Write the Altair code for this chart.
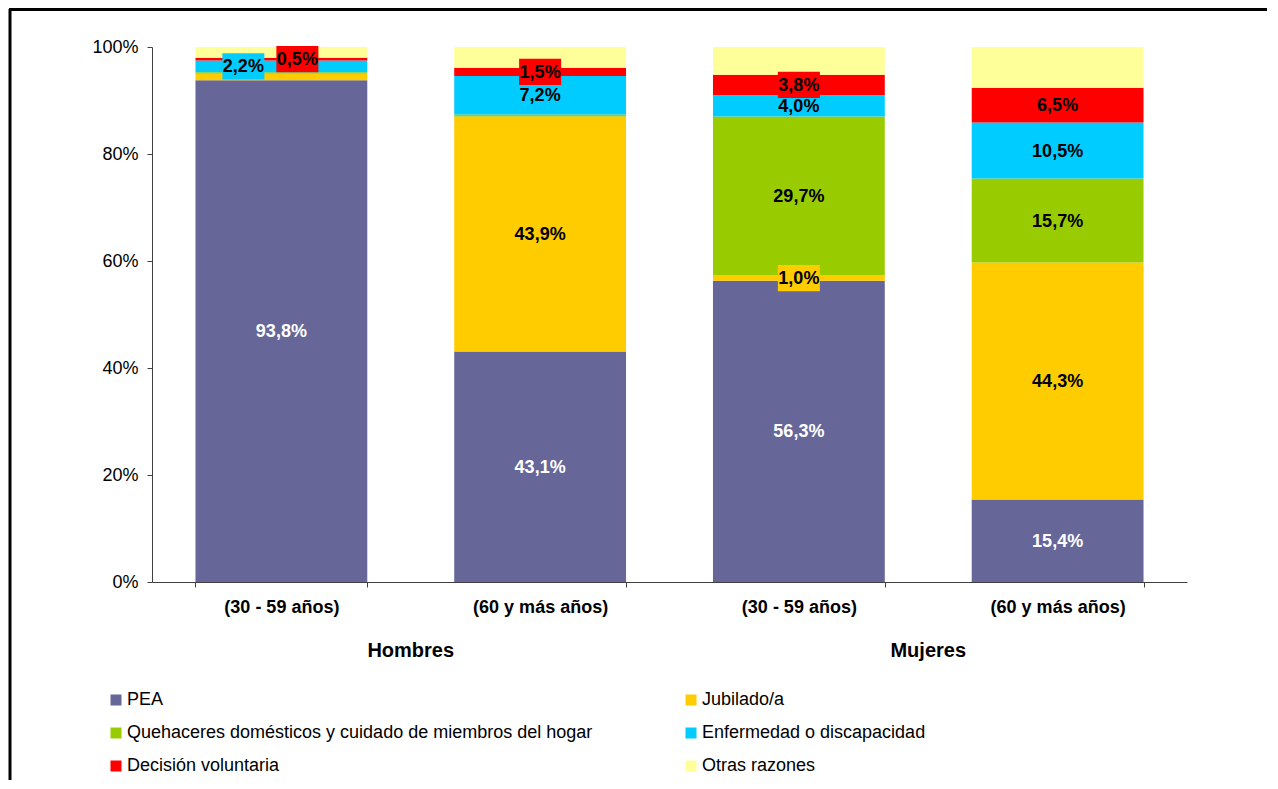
import altair as alt
import pandas as pd

# ---------------- data ----------------
groups = ["Hombres", "Hombres", "Mujeres", "Mujeres"]
ages = ["(30 - 59 años)", "(60 y más años)", "(30 - 59 años)", "(60 y más años)"]
group_names = ["Hombres", "Mujeres"]

series = [
    "PEA",
    "Jubilado/a",
    "Quehaceres domésticos y cuidado de miembros del hogar",
    "Enfermedad o discapacidad",
    "Decisión voluntaria",
    "Otras razones",
]
colors = ["#666699", "#FFCC00", "#99CC00", "#00CCFF", "#FF0000", "#FFFF99"]

pea = [93.8, 43.1, 56.3, 15.4]
jubilado = [1.2, 43.9, 1.0, 44.3]
quehaceres = [0.3, 0.4, 29.7, 15.7]
enfermedad = [2.2, 7.2, 4.0, 10.5]
decision = [0.5, 1.5, 3.8, 6.5]
otras = [2.0, 3.9, 5.2, 7.6]

pea_show = [True, True, True, True]
jubilado_show = [False, True, True, True]
quehaceres_show = [False, False, True, True]
enfermedad_show = [True, True, True, True]
decision_show = [True, True, True, True]
otras_show = [False, False, False, False]

y_ticks = [0, 20, 40, 60, 80, 100]

# ---------------- table ----------------
values = [pea, jubilado, quehaceres, enfermedad, decision, otras]
shows = [pea_show, jubilado_show, quehaceres_show, enfermedad_show, decision_show, otras_show]
cats = [f"{g} {a}" for g, a in zip(groups, ages)]

# legend is filled column by column: two columns of three
legend_order = [series[i] for i in (0, 2, 4, 1, 3, 5)]

# horizontal nudges of overlapping labels (style, in pixels)
label_dx = {(0, 3): -38, (0, 4): 16}

rows = []
for ci, cat in enumerate(cats):
    base = 0.0
    for si, s in enumerate(series):
        v = values[si][ci]
        rows.append({
            "cat": cat,
            "serie": s,
            "orden": si,
            "valor": v,
            "mid": base + v / 2.0,
            "etiqueta": f"{v:.1f}".replace(".", ",") + "%",
            "mostrar": shows[si][ci],
            "caja": bool(shows[si][ci] and v < 4),
            "hex": colors[si],
            "dx": label_dx.get((ci, si), 0),
        })
        base += v
df = pd.DataFrame(rows)
labels_df = df[df["mostrar"]]

FONT = "Liberation Sans"
xscale = alt.Scale(type="band", domain=cats, paddingInner=0.336, paddingOuter=0.168)
yscale = alt.Scale(domain=[0, 100], nice=False)

bars = alt.Chart(df).mark_bar().encode(
    x=alt.X("cat:N", scale=xscale, sort=cats, axis=alt.Axis(
        title=None, labelAngle=0, labelExpr="substring(datum.label, indexof(datum.label, '('))",
        labelFontSize=18, labelFontWeight="bold", labelColor="black", labelPadding=11,
        tickBand="extent", tickSize=5, tickColor="#404040", domainColor="#404040",
        labelFont=FONT,
    )),
    y=alt.Y("valor:Q", stack="zero", scale=yscale, axis=alt.Axis(
        title=None, values=y_ticks, labelExpr="datum.value + '%'", grid=False,
        tickSize=5, tickColor="#404040", domainColor="#404040", labelFontSize=18,
        labelColor="black", labelPadding=9, labelFont=FONT,
    )),
    color=alt.Color("serie:N", scale=alt.Scale(domain=series, range=colors), legend=alt.Legend(
        title=None, orient="none", legendX=-45, legendY=644, columns=2, columnPadding=89,
        rowPadding=15, symbolType="square", symbolSize=121, labelFontSize=18, labelOffset=2,
        labelLimit=1000, labelColor="black", labelFont=FONT, symbolStrokeWidth=0,
        symbolOpacity=1, values=legend_order,
    )),
    order=alt.Order("orden:Q", sort="ascending"),
)

box_shape = "M-1,-0.625L1,-0.625L1,0.625L-1,0.625Z"
layers = [bars]
for d in sorted(labels_df["dx"].unique()):
    sub = labels_df[labels_df["dx"] == d]
    boxes = alt.Chart(sub).transform_filter(alt.datum.caja).mark_point(
        shape=box_shape, size=1764, filled=True, opacity=1, strokeWidth=0, xOffset=int(d)
    ).encode(
        x=alt.X("cat:N", scale=xscale, sort=cats),
        y=alt.Y("mid:Q", scale=yscale),
        fill=alt.Fill("hex:N", scale=None),
    )
    layers.append(boxes)
for d in sorted(labels_df["dx"].unique()):
    sub = labels_df[labels_df["dx"] == d]
    texts = alt.Chart(sub).mark_text(
        fontSize=18, fontWeight="bold", font=FONT, baseline="middle", align="center", dx=int(d), dy=1
    ).encode(
        x=alt.X("cat:N", scale=xscale, sort=cats),
        y=alt.Y("mid:Q", scale=yscale),
        text="etiqueta:N",
        color=alt.condition(alt.datum.serie == "PEA", alt.value("white"), alt.value("black")),
    )
    layers.append(texts)

frame_df = pd.DataFrame({"k": [0]})
frame_left = alt.Chart(frame_df).mark_rule(color="black", strokeWidth=3).encode(
    x=alt.value(-142), y=alt.value(-38), y2=alt.value(745)
)
frame_top = alt.Chart(frame_df).mark_rule(color="black", strokeWidth=3).encode(
    x=alt.value(-143), x2=alt.value(1120), y=alt.value(-37.5)
)
layers += [frame_left, frame_top]

inner = alt.layer(*layers)

grp = alt.Chart(pd.DataFrame({"grupo": group_names})).mark_text(text="", opacity=0).encode(
    x=alt.X("grupo:N", sort=group_names,
            scale=alt.Scale(type="band", domain=group_names, paddingInner=0, paddingOuter=0),
            axis=alt.Axis(orient="bottom", title=None, ticks=False, tickSize=0, domain=False,
                          labelFontSize=20, labelFontWeight="bold", labelColor="black",
                          labelPadding=58, labelAngle=0, labelFont=FONT)),
)

chart = alt.layer(inner, grp).resolve_scale(x="independent").properties(
    width=1035,
    height=535,
    padding={"left": 144, "top": 39, "right": 80, "bottom": 198},
    autosize=alt.AutoSizeParams(type="none"),
).configure(font=FONT, background="white").configure_view(strokeWidth=0)

chart.save("out.html", embed_options={"renderer": "svg", "actions": False})
